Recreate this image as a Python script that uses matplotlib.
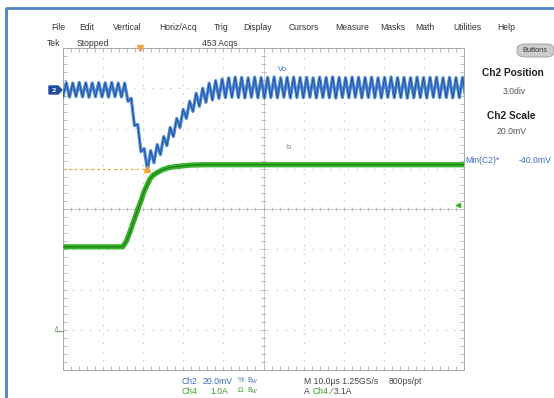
import numpy as np
import matplotlib
matplotlib.use("Agg")
import matplotlib.pyplot as plt
from matplotlib.patches import FancyBboxPatch, Polygon
from matplotlib.lines import Line2D

W, H = 554, 398

CH2_SCALE, CH2_POS = 20.0, 3.0      # mV/div, div
CH4_SCALE, CH4_POS = 1.0, -3.0      # A/div, div
TIME_DIV = 10.0                     # us/div
TRIG_LEVEL = 3.1                    # A
TRIG_T = 19.2                       # us from left edge
VO_MIN = -40.0                      # mV
VO_MIN_T = 21.06                    # us

# Vo ripple: peaks / troughs, one every VO_STEP_US
VO_STEP_US = 0.81
VO_MV = [-4.2, 2.8, -4.4, 2.6, -4.1, 2.9, -4.3, 2.7, -4.5, 2.6,
         -4.2, 2.8, -4.3, 2.7, -4.4, 2.9, -4.2, 2.6, -4.3, 2.5,
         -6.5, -5.0, -18.5, -18.0, -31.5, -30.0, -40.6, -31.0, -37.0, -28.0,
         -33.0, -24.0, -28.5, -19.5, -24.0, -15.0, -19.5, -10.5, -15.0, -6.5,
         -11.5, -2.5, -9.0, 0.0, -7.0, 2.5, -5.8, 3.8, -5.0, 4.6,
         -4.6, 5.2, -4.5, 5.5,
         -4.6, 5.4, -4.8, 5.2, -4.5, 5.5, -4.7, 5.3, -4.9, 5.4,
         -4.6, 5.6, -4.7, 5.2, -4.5, 5.4, -4.8, 5.5, -4.6, 5.3,
         -4.7, 5.4, -4.5, 5.2, -4.8, 5.5, -4.6, 5.3, -4.7, 5.6,
         -4.9, 5.4, -4.6, 5.2, -4.7, 5.5, -4.5, 5.4, -4.8, 5.3,
         -4.6, 5.5, -4.7, 5.2, -4.8, 5.4, -4.5, 5.6, -4.7, 5.3,
         -4.6, 5.4, -4.9, 5.2, -4.7, 5.5, -4.6, 5.3, -4.8, 5.4,
         -4.5, 5.5, -4.7, 5.2, -4.6, 5.4, -4.8, 5.3, -4.7, 5.4, -4.6]

IO_T_US = [0, 14.9, 15.8, 16.7, 17.7, 18.7, 19.5, 20.2, 21.0, 21.7,
           22.5, 23.4, 24.9, 26.5, 27.9, 29.8, 31.7, 35.0, 100]
IO_A = [2.06, 2.06, 2.2, 2.43, 2.72, 3.0, 3.22, 3.43, 3.6, 3.75,
        3.84, 3.9, 3.98, 4.03, 4.05, 4.07, 4.09, 4.1, 4.1]

MENU = ["File", "Edit", "Vertical", "Horiz/Acq", "Trig", "Display",
        "Cursors", "Measure", "Masks", "Math", "Utilities", "Help"]
MENU_X = [58, 87, 127, 178, 221, 258, 304, 352, 393, 425, 467, 506]

BLUE_OUT, BLUE_IN = "#4d8ad4", "#214c9e"
GREEN_OUT, GREEN_IN = "#36b32a", "#1f7f17"
ORANGE = "#f2a23a"
GRID = "#bdbdbd"

def fx(x):
    return x / W

def fy(y):
    return 1 - y / H

def vo_div(v):
    return 4 + CH2_POS + np.asarray(v) / CH2_SCALE

def io_div(a):
    return 4 + CH4_POS + np.asarray(a) / CH4_SCALE

fig = plt.figure(figsize=(W / 100, H / 100), dpi=100)
fig.patch.set_facecolor("white")
ax = fig.add_axes([fx(63), fy(370), (464 - 63) / W, (370 - 48) / H])
ax.set_xlim(0, 10 * TIME_DIV)
ax.set_ylim(0, 8)
ax.set_xticks([])
ax.set_yticks([])
for s in ax.spines.values():
    s.set_color("#a8a8a8")
    s.set_linewidth(0.7)

# graticule
for i in range(1, 10):
    if i != 5:
        ax.axvline(i * TIME_DIV, color=GRID, lw=0.8, ls=(0, (1, 7)), zorder=0)
for j in range(1, 8):
    if j != 4:
        ax.axhline(j, color=GRID, lw=0.8, ls=(0, (1, 7)), zorder=0)
ax.axvline(5 * TIME_DIV, color="#c4c4c4", lw=0.6, zorder=0)
ax.axhline(4, color="#c4c4c4", lw=0.6, zorder=0)
tx = np.arange(0, 100.1, 2.0)
ty = np.arange(0, 8.01, 0.2)
for y0, h in [(4, 0.06), (8, 0.1), (0, 0.1)]:
    ax.vlines(tx, y0 - h, y0 + h, color="#b0b0b0", lw=0.6, zorder=0)
for x0, w in [(50, 0.6), (0, 1.0), (100, 1.0)]:
    ax.hlines(ty, x0 - w, x0 + w, color="#b0b0b0", lw=0.6, zorder=0)

# min cursor
ax.plot([0, VO_MIN_T], [vo_div(VO_MIN)] * 2, color=ORANGE, lw=0.9,
        ls=(0, (2, 2.5)), zorder=1)

# Io (Ch4)
ax.plot(IO_T_US, io_div(IO_A), color=GREEN_OUT, lw=3.8, zorder=2,
        solid_capstyle="butt")
ax.plot(IO_T_US, io_div(IO_A), color=GREEN_IN, lw=0.9, zorder=3)

# Vo (Ch2)
vo_t = np.arange(len(VO_MV)) * VO_STEP_US
ax.plot(vo_t, vo_div(VO_MV), color=BLUE_OUT, lw=2.3, zorder=4)
ax.plot(vo_t, vo_div(VO_MV), color=BLUE_IN, lw=0.6, zorder=5)

ax.plot([VO_MIN_T], [vo_div(VO_MIN)], marker="^", ms=4.5, color=ORANGE,
        zorder=6, clip_on=False)
ax.plot([TRIG_T], [8.0], marker="v", ms=5, color=ORANGE, zorder=6,
        clip_on=False)
ax.plot([98.6], [io_div(TRIG_LEVEL)], marker="<", ms=3, color=GREEN_OUT,
        zorder=6, clip_on=False)

ax.text(53.5, vo_div(8.5), "Vo", fontsize=5.5, color="#3a6cc0",
        family="Liberation Sans")
ax.text(55.5, io_div(4.5), "Io", fontsize=5.5, color="#808a80",
        family="Liberation Sans")

# channel markers at left edge
fig.patches.append(Polygon([(fx(49), fy(86)), (fx(58), fy(86)), (fx(62), fy(90)),
                            (fx(58), fy(94)), (fx(49), fy(94))],
                           closed=True, transform=fig.transFigure,
                           color=BLUE_IN))
fig.text(fx(53.5), fy(90), "2", fontsize=4.5, color="white", ha="center",
         va="center", fontweight="bold")
fig.text(fx(56), fy(330.5), "4", fontsize=5.5, color="#6f9f6f", ha="center",
         va="center")
fig.lines.append(Line2D([fx(58), fx(63)], [fy(330.5)] * 2,
                        transform=fig.transFigure, color="#6f9f6f", lw=0.8))

# frame
fig.lines.append(Line2D([fx(6), fx(6), fx(560)], [fy(400), fy(8), fy(8)],
                        transform=fig.transFigure, color="#5083c0", lw=2.0))

FS = 6.2
TXT = dict(family="Liberation Sans", va="center")
for lab, x in zip(MENU, MENU_X):
    fig.text(fx(x), fy(27), lab, fontsize=FS, color="#333333", ha="center", **TXT)
fig.text(fx(47), fy(43), "Tek", fontsize=FS, color="#333333", ha="left", **TXT)
fig.text(fx(77), fy(43), "Stopped", fontsize=FS, color="#333333", ha="left", **TXT)
fig.text(fx(220), fy(43), "453 Acqs", fontsize=FS, color="#333333", ha="center", **TXT)

# right-hand panel
fig.patches.append(FancyBboxPatch((fx(517), fy(57)), fx(37), 13 / H,
                                  boxstyle="round,pad=0,rounding_size=0.014",
                                  transform=fig.transFigure,
                                  fc="#cdcdcd", ec="#9a9a9a", lw=0.6))
fig.text(fx(535), fy(50.5), "Buttons", fontsize=5.3, color="#333333", ha="center", **TXT)
fig.text(fx(513), fy(73), "Ch2 Position", fontsize=7.3, fontweight="bold",
         color="#222222", ha="center", **TXT)
fig.text(fx(514), fy(91), f"{CH2_POS:.1f}div", fontsize=FS, color="#555555",
         ha="center", **TXT)
fig.text(fx(511), fy(116), "Ch2 Scale", fontsize=7.3, fontweight="bold",
         color="#222222", ha="center", **TXT)
fig.text(fx(512), fy(132), f"{CH2_SCALE:.1f}mV", fontsize=FS, color="#555555",
         ha="center", **TXT)
fig.text(fx(465), fy(161), "Min(C2)*", fontsize=FS, color="#3a6cc0", ha="left", **TXT)
fig.text(fx(519), fy(161), f"{VO_MIN:.1f}mV", fontsize=FS, color="#3a6cc0",
         ha="left", **TXT)

# bottom status lines
C2, C4, CK = "#3a6cc0", "#3c9a2c", "#444444"
fig.text(fx(182), fy(381), "Ch2", fontsize=FS, color=C2, ha="left", **TXT)
fig.text(fx(203), fy(381), f"{CH2_SCALE:.1f}mV", fontsize=FS, color=C2, ha="left", **TXT)
fig.text(fx(238), fy(381), "%", fontsize=5.4, color=C2, ha="left", **TXT)
fig.text(fx(247), fy(381), "B$_W$", fontsize=5.0, color=C2, ha="left", **TXT)
fig.text(fx(182), fy(391), "Ch4", fontsize=FS, color=C4, ha="left", **TXT)
fig.text(fx(210), fy(391), f"{CH4_SCALE:.1f}A", fontsize=FS, color=C4, ha="left", **TXT)
fig.text(fx(238), fy(391), "Ω", fontsize=5.4, color=C4, ha="left", **TXT)
fig.text(fx(247), fy(391), "B$_W$", fontsize=5.0, color=C4, ha="left", **TXT)
fig.text(fx(304), fy(381), f"M {TIME_DIV:.1f}µs 1.25GS/s", fontsize=FS, color=CK,
         ha="left", **TXT)
fig.text(fx(389), fy(381), "800ps/pt", fontsize=FS, color=CK, ha="left", **TXT)
fig.text(fx(304), fy(391), "A", fontsize=FS, color=CK, ha="left", **TXT)
fig.text(fx(313), fy(391), "Ch4", fontsize=FS, color=C4, ha="left", **TXT)
fig.text(fx(331), fy(391), f"⁄ {TRIG_LEVEL:.1f}A", fontsize=FS, color=CK,
         ha="left", **TXT)

fig.savefig("out.png", dpi=100, facecolor="white")
